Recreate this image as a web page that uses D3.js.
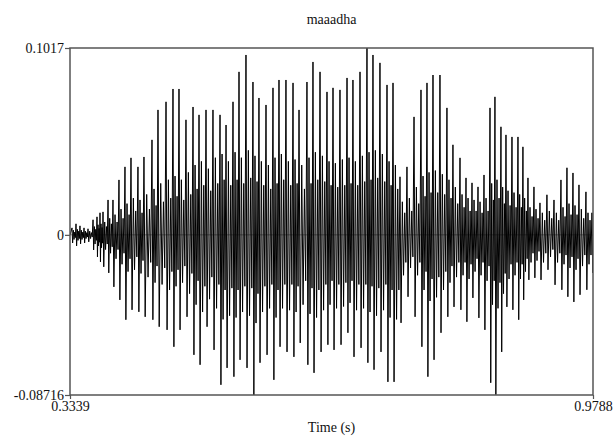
<!DOCTYPE html>
<html>
<head>
<meta charset="utf-8">
<script src="https://cdn.jsdelivr.net/npm/d3@7"></script>
<style>
  body { margin: 0; background: #fff; }
  svg text { font-family: "Liberation Serif", "Times New Roman", serif; }
</style>
</head>
<body>
<svg id="drawing_region"></svg>
<script>
// axis range and labels
const timeRange = [0.3339, 0.9788];
const ampRange = [-0.08716, 0.1017];
const xTickValues = [0.3339, 0.9788];
const xTickLabels = ["0.3339", "0.9788"];
const yTickValues = [0.1017, 0, -0.08716];
const yTickLabels = ["0.1017", "0", "-0.08716"];

// one entry per glottal cycle (start time, s)
const cycleTimes = [
    0.3364, 0.3413, 0.3462, 0.3512, 0.3561,
    0.3623, 0.3672, 0.3709, 0.3746, 0.3808,
    0.3869, 0.3943, 0.4017, 0.4091, 0.4177,
    0.4251, 0.4350, 0.4424, 0.4523, 0.4609,
    0.4683, 0.4769, 0.4856, 0.4930, 0.5016,
    0.5102, 0.5189, 0.5263, 0.5349, 0.5423,
    0.5509, 0.5595, 0.5669, 0.5756, 0.5842,
    0.5916, 0.6002, 0.6089, 0.6163, 0.6261,
    0.6335, 0.6422, 0.6508, 0.6582, 0.6668,
    0.6755, 0.6828, 0.6915, 0.7001, 0.7075,
    0.7161, 0.7248, 0.7322, 0.7408, 0.7494,
    0.7581, 0.7667, 0.7741, 0.7815, 0.7901,
    0.7987, 0.8061, 0.8148, 0.8222, 0.8296,
    0.8370, 0.8444, 0.8518, 0.8579, 0.8653,
    0.8715, 0.8789, 0.8863, 0.8924, 0.8986,
    0.9060, 0.9134, 0.9220, 0.9307, 0.9393,
    0.9467, 0.9541, 0.9615, 0.9701, 0.9775
];

// main positive spike of each cycle
const peakHigh = [
    0.0038, 0.0060, 0.0049, 0.0038, 0.0033,
    0.0082, 0.0098, 0.0120, 0.0125, 0.0190,
    0.0190, 0.0299, 0.0370, 0.0419, 0.0370,
    0.0424, 0.0517, 0.0680, 0.0724, 0.0794,
    0.0794, 0.0626, 0.0696, 0.0653, 0.0680,
    0.0680, 0.0653, 0.0598, 0.0724, 0.0887,
    0.0979, 0.0832, 0.0745, 0.0707, 0.0800,
    0.0843, 0.0843, 0.0827, 0.0680, 0.0832,
    0.0941, 0.0887, 0.0778, 0.0800, 0.0789,
    0.0854, 0.0843, 0.0887, 0.1017, 0.0979,
    0.0936, 0.0816, 0.0827, 0.0316, 0.0370,
    0.0642, 0.0789, 0.0827, 0.0870, 0.0870,
    0.0691, 0.0490, 0.0419, 0.0310, 0.0283,
    0.0261, 0.0326, 0.0691, 0.0751, 0.0588,
    0.0544, 0.0533, 0.0533, 0.0479, 0.0310,
    0.0261, 0.0174, 0.0218, 0.0190, 0.0299,
    0.0365, 0.0337, 0.0272, 0.0234, 0.0120
];

// main negative spike of each cycle
const peakLow = [
    -0.0044, -0.0060, -0.0049, -0.0044, -0.0038,
    -0.0082, -0.0120, -0.0147, -0.0174, -0.0207,
    -0.0283, -0.0354, -0.0462, -0.0408, -0.0419,
    -0.0446, -0.0462, -0.0500, -0.0517, -0.0609,
    -0.0517, -0.0446, -0.0653, -0.0707, -0.0500,
    -0.0626, -0.0816, -0.0724, -0.0772, -0.0680,
    -0.0724, -0.08716, -0.0696, -0.0653, -0.0789,
    -0.0609, -0.0637, -0.0664, -0.0588, -0.0707,
    -0.0751, -0.0637, -0.0598, -0.0626, -0.0598,
    -0.0533, -0.0664, -0.0615, -0.0696, -0.0734,
    -0.0637, -0.0800, -0.0800, -0.0479, -0.0337,
    -0.0446, -0.0609, -0.0772, -0.0680, -0.0533,
    -0.0446, -0.0392, -0.0408, -0.0473, -0.0343,
    -0.0452, -0.0517, -0.0805, -0.0870, -0.0637,
    -0.0392, -0.0408, -0.0462, -0.0354, -0.0245,
    -0.0234, -0.0245, -0.0190, -0.0272, -0.0299,
    -0.0337, -0.0365, -0.0326, -0.0299, -0.0207
];

// second oscillation inside each cycle
const subHigh = [
    0.0025, 0.0030, 0.0025, 0.0020, 0.0020,
    0.0045, 0.0055, 0.0060, 0.0070, 0.0090, 0.0110,
    0.0140, 0.0170, 0.0200, 0.0190, 0.0220, 0.0250, 0.0280, 0.0300, 0.0320, 0.0300, 0.0340,
    0.0380, 0.0400, 0.0360, 0.0420, 0.0440, 0.0400, 0.0450, 0.0420, 0.0460, 0.0430,
    0.0400, 0.0380, 0.0420, 0.0440, 0.0400, 0.0410, 0.0380, 0.0420, 0.0450, 0.0430,
    0.0400, 0.0390, 0.0410, 0.0420, 0.0400, 0.0430, 0.0450, 0.0460, 0.0440, 0.0400, 0.0380,
    0.0180, 0.0200, 0.0260, 0.0320, 0.0340, 0.0350, 0.0330, 0.0300, 0.0260, 0.0220,
    0.0200, 0.0190, 0.0180, 0.0200,
    0.0280, 0.0300, 0.0260, 0.0240, 0.0230, 0.0220, 0.0200,
    0.0150, 0.0140, 0.0120, 0.0130, 0.0120, 0.0150, 0.0170, 0.0160, 0.0140, 0.0120, 0.0080
];

const subLow = [
    -0.0025, -0.0030, -0.0025, -0.0020, -0.0020,
    -0.0050, -0.0060, -0.0070, -0.0080, -0.0100, -0.0130,
    -0.0160, -0.0200, -0.0190, -0.0210, -0.0230, -0.0260, -0.0270, -0.0300, -0.0280, -0.0260, -0.0320,
    -0.0380, -0.0420, -0.0350, -0.0400, -0.0460, -0.0440, -0.0450, -0.0420, -0.0440, -0.0480,
    -0.0420, -0.0400, -0.0450, -0.0400, -0.0410, -0.0420, -0.0380, -0.0430, -0.0450, -0.0410,
    -0.0380, -0.0400, -0.0390, -0.0370, -0.0410, -0.0400, -0.0420, -0.0440, -0.0410, -0.0450, -0.0460,
    -0.0220, -0.0180, -0.0220, -0.0300, -0.0360, -0.0340, -0.0300, -0.0260, -0.0230, -0.0220,
    -0.0240, -0.0200, -0.0220, -0.0250,
    -0.0380, -0.0400, -0.0320, -0.0240, -0.0220, -0.0240, -0.0200,
    -0.0150, -0.0140, -0.0150, -0.0120, -0.0150, -0.0160, -0.0180, -0.0190, -0.0170, -0.0160, -0.0120
];

// decaying tail before the next spike
const tailHigh = [
    0.0015, 0.0020, 0.0015, 0.0012, 0.0012,
    0.0030, 0.0035, 0.0040, 0.0045, 0.0060, 0.0070,
    0.0090, 0.0110, 0.0130, 0.0120, 0.0140, 0.0160, 0.0180, 0.0200, 0.0210, 0.0190, 0.0220,
    0.0250, 0.0270, 0.0240, 0.0280, 0.0300, 0.0270, 0.0300, 0.0280, 0.0310, 0.0290,
    0.0270, 0.0250, 0.0280, 0.0300, 0.0270, 0.0280, 0.0250, 0.0280, 0.0300, 0.0290,
    0.0270, 0.0260, 0.0270, 0.0280, 0.0270, 0.0290, 0.0300, 0.0310, 0.0290, 0.0270, 0.0250,
    0.0120, 0.0130, 0.0170, 0.0210, 0.0230, 0.0230, 0.0220, 0.0200, 0.0170, 0.0150,
    0.0130, 0.0130, 0.0120, 0.0130,
    0.0190, 0.0200, 0.0170, 0.0160, 0.0150, 0.0150, 0.0130,
    0.0100, 0.0090, 0.0080, 0.0090, 0.0080, 0.0100, 0.0110, 0.0110, 0.0090, 0.0080, 0.0050
];

const tailLow = [
    -0.0015, -0.0020, -0.0015, -0.0012, -0.0012,
    -0.0030, -0.0040, -0.0045, -0.0050, -0.0065, -0.0080,
    -0.0100, -0.0130, -0.0120, -0.0140, -0.0150, -0.0170, -0.0180, -0.0200, -0.0190, -0.0170, -0.0210,
    -0.0250, -0.0280, -0.0230, -0.0270, -0.0300, -0.0290, -0.0300, -0.0280, -0.0290, -0.0320,
    -0.0280, -0.0270, -0.0300, -0.0270, -0.0270, -0.0280, -0.0250, -0.0290, -0.0300, -0.0270,
    -0.0250, -0.0270, -0.0260, -0.0250, -0.0270, -0.0270, -0.0280, -0.0290, -0.0270, -0.0300, -0.0300,
    -0.0150, -0.0120, -0.0150, -0.0200, -0.0240, -0.0230, -0.0200, -0.0170, -0.0150, -0.0150,
    -0.0160, -0.0130, -0.0150, -0.0170,
    -0.0250, -0.0260, -0.0210, -0.0160, -0.0150, -0.0160, -0.0130,
    -0.0100, -0.0090, -0.0100, -0.0080, -0.0100, -0.0110, -0.0120, -0.0130, -0.0110, -0.0110, -0.0080
];

class Waveform {

    constructor( config ) {
        this.config = {
            parent: config.parent,
            width: config.width || 614,
            height: config.height || 437,
            margin: config.margin || {top:48, right:21, bottom:42, left:70}
        }
        this.init();
    }

    init() {
        let self = this;

        self.svg = d3.select( self.config.parent )
            .attr('width', self.config.width)
            .attr('height', self.config.height);

        self.inner_width = self.config.width - self.config.margin.left - self.config.margin.right;
        self.inner_height = self.config.height - self.config.margin.top - self.config.margin.bottom;

        self.chart = self.svg.append('g')
            .attr('transform', `translate(${self.config.margin.left}, ${self.config.margin.top})`);

        self.xscale = d3.scaleLinear()
            .domain( timeRange )
            .range( [0, self.inner_width] );

        self.yscale = d3.scaleLinear()
            .domain( ampRange )
            .range( [self.inner_height, 0] );

        self.xaxis = d3.axisBottom( self.xscale )
            .tickValues( xTickValues )
            .tickFormat( (d, i) => xTickLabels[i] )
            .tickSize(4)
            .tickPadding(2);

        self.yaxis = d3.axisLeft( self.yscale )
            .tickValues( yTickValues )
            .tickFormat( (d, i) => yTickLabels[i] )
            .tickSize(5)
            .tickPadding(1);
    }

    points() {
        // spike, trough, then the ringing of each period
        const pts = [ {t: timeRange[0], v: 0} ];
        const n = cycleTimes.length;
        cycleTimes.forEach( (t, i) => {
            const T = i < n - 1 ? cycleTimes[i+1] - t : t - cycleTimes[i-1];
            pts.push( {t: t, v: peakHigh[i]} );
            pts.push( {t: t + 0.15 * T, v: peakLow[i]} );
            pts.push( {t: t + 0.34 * T, v: subHigh[i]} );
            pts.push( {t: t + 0.51 * T, v: subLow[i]} );
            pts.push( {t: t + 0.68 * T, v: tailHigh[i]} );
            pts.push( {t: t + 0.84 * T, v: tailLow[i]} );
        });
        pts.push( {t: timeRange[1], v: 0} );
        return pts;
    }

    render() {
        let self = this;

        self.svg.append('defs').append('clipPath')
            .attr('id', 'plot-clip')
            .append('rect')
            .attr('width', self.inner_width)
            .attr('height', self.inner_height);

        // zero line
        self.chart.append('line')
            .attr('x1', 0)
            .attr('x2', self.inner_width)
            .attr('y1', self.yscale(0))
            .attr('y2', self.yscale(0))
            .attr('stroke', '#9a9a9a')
            .attr('stroke-width', 1);

        const line = d3.line()
            .x( d => self.xscale(d.t) )
            .y( d => self.yscale(d.v) );

        self.chart.append('path')
            .attr('d', line( self.points() ))
            .attr('clip-path', 'url(#plot-clip)')
            .attr('stroke', '#000')
            .attr('stroke-width', 1)
            .attr('fill', 'none');

        // frame
        self.chart.append('rect')
            .attr('width', self.inner_width)
            .attr('height', self.inner_height)
            .attr('fill', 'none')
            .attr('stroke', '#555')
            .attr('stroke-width', 1.5);

        const xg = self.chart.append('g')
            .attr('transform', `translate(0, ${self.inner_height})`)
            .call( self.xaxis );

        const yg = self.chart.append('g')
            .call( self.yaxis );

        [xg, yg].forEach( g => {
            g.attr('font-family', null);
            g.select('.domain').remove();
            g.selectAll('line').attr('stroke', '#555').attr('stroke-width', 1.2);
            g.selectAll('text')
                .attr('fill', '#111')
                .style('font-family', '"Liberation Serif", "Times New Roman", serif')
                .style('font-size', '14px');
        });

        self.svg.append('text')
            .attr('x', self.config.margin.left + self.inner_width / 2)
            .attr('y', 24)
            .attr('text-anchor', 'middle')
            .style('font-size', '14px')
            .attr('fill', '#111')
            .text('maaadha');

        self.svg.append('text')
            .attr('x', self.config.margin.left + self.inner_width / 2)
            .attr('y', 432)
            .attr('text-anchor', 'middle')
            .style('font-size', '14px')
            .attr('fill', '#111')
            .text('Time (s)');
    }
}

const chart = new Waveform( { parent: '#drawing_region', width: 614, height: 437 } );
chart.render();
</script>
</body>
</html>
